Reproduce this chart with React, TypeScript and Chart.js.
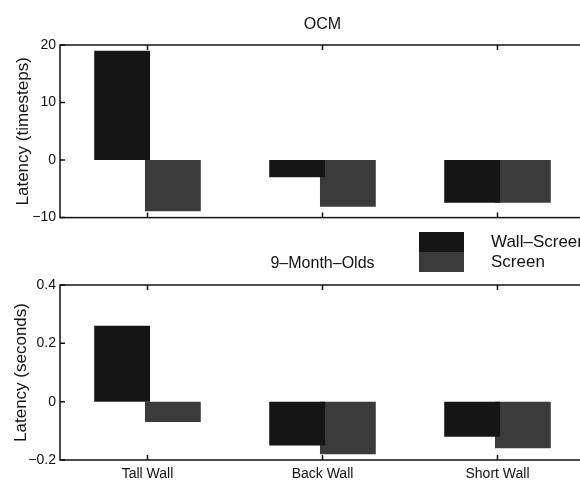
import React, { useEffect, useRef } from "react";
import { Chart, registerables } from "chart.js";

Chart.register(...registerables);

const categories = ["Tall Wall", "Back Wall", "Short Wall"];
const seriesLabels = ["Wall–Screen", "Screen"];
const seriesColors = ["#151515", "#3b3b3b"];

const ocmWallScreen = [19, -3, -7.4];
const ocmScreen = [-8.9, -8.1, -7.4];
const ocmTicks = [-10, 0, 10, 20];

const infantWallScreen = [0.26, -0.15, -0.12];
const infantScreen = [-0.07, -0.18, -0.16];
const infantTicks = [-0.2, 0, 0.2, 0.4];

const FONT = "'Liberation Sans', Arial, Helvetica, sans-serif";

const fmt = (v: number) => String(Math.round(v * 10) / 10).replace("-", "−");

const framePlugin = {
  id: "frame",
  afterDatasetsDraw(chart: any) {
    const { ctx, chartArea: a, scales } = chart;
    ctx.save();
    ctx.strokeStyle = "#111";
    ctx.lineWidth = 1.5;
    ctx.strokeRect(a.left, a.top, a.right - a.left, a.bottom - a.top);
    const tl = 5;
    ctx.beginPath();
    scales.y.ticks.forEach((t: any) => {
      const y = scales.y.getPixelForValue(t.value);
      ctx.moveTo(a.left, y);
      ctx.lineTo(a.left + tl, y);
      ctx.moveTo(a.right, y);
      ctx.lineTo(a.right - tl, y);
    });
    scales.x.ticks.forEach((_t: any, i: number) => {
      const x = scales.x.getPixelForTick(i);
      ctx.moveTo(x, a.bottom);
      ctx.lineTo(x, a.bottom - tl);
      ctx.moveTo(x, a.top);
      ctx.lineTo(x, a.top + tl);
    });
    ctx.stroke();
    ctx.restore();
  },
};

const splitLegendPlugin = {
  id: "splitLegend",
  afterDraw(chart: any) {
    const ctx = chart.ctx;
    const x = 419;
    const y = 2;
    const w = 45;
    const h = 20;
    ctx.save();
    chart.data.datasets.forEach((ds: any, i: number) => {
      ctx.fillStyle = ds.backgroundColor;
      ctx.fillRect(x, y + i * h, w, h);
      ctx.fillStyle = "#111";
      ctx.font = `17px ${FONT}`;
      ctx.textAlign = "left";
      ctx.textBaseline = "middle";
      ctx.fillText(ds.label, 491, y + i * h + h / 2);
    });
    ctx.restore();
  },
};

function makeConfig(
  title: string,
  yTitle: string,
  a: number[],
  b: number[],
  ticks: number[],
  showX: boolean,
  titlePadTop: number,
  titlePadBottom: number,
  xHeight: number,
  yTitlePad: number,
  plugins: any[]
): any {
  return {
    type: "bar",
    data: {
      labels: categories,
      datasets: [
        { label: seriesLabels[0], data: a, backgroundColor: seriesColors[0], borderWidth: 0 },
        { label: seriesLabels[1], data: b, backgroundColor: seriesColors[1], borderWidth: 0 },
      ],
    },
    options: {
      responsive: false,
      animation: false,
      devicePixelRatio: 1,
      layout: { padding: { left: 0, right: 15, top: 0, bottom: 0 } },
      datasets: { bar: { categoryPercentage: 0.58, barPercentage: 1.1 } },
      plugins: {
        legend: { display: false },
        tooltip: { enabled: false },
        title: {
          display: true,
          text: title,
          fullSize: false,
          color: "#111",
          font: { family: FONT, size: 16, weight: "normal", lineHeight: 1.2 },
          padding: { top: titlePadTop, bottom: titlePadBottom },
        },
      },
      scales: {
        x: {
          grid: { display: false, drawTicks: false },
          border: { display: false },
          ticks: {
            display: showX,
            color: "#111",
            font: { family: FONT, size: 14 },
            padding: 6,
            maxRotation: 0,
          },
          afterFit: (s: any) => {
            s.height = xHeight;
          },
        },
        y: {
          min: ticks[0],
          max: ticks[ticks.length - 1],
          grid: { display: false, drawTicks: false },
          border: { display: false },
          afterBuildTicks: (s: any) => {
            s.ticks = ticks.map((v) => ({ value: v }));
          },
          ticks: {
            color: "#111",
            font: { family: FONT, size: 14 },
            padding: 4,
            callback: (v: any) => fmt(Number(v)),
          },
          title: {
            display: true,
            text: yTitle,
            color: "#111",
            font: { family: FONT, size: 17, lineHeight: 1.2 },
            padding: { top: yTitlePad, bottom: 0 },
          },
          afterFit: (s: any) => {
            s.width = 60;
          },
        },
      },
    },
    plugins,
  };
}

export default function App() {
  const topRef = useRef<HTMLCanvasElement>(null);
  const botRef = useRef<HTMLCanvasElement>(null);

  useEffect(() => {
    const c1 = new Chart(
      topRef.current as HTMLCanvasElement,
      makeConfig("OCM", "Latency (timesteps)", ocmWallScreen, ocmScreen, ocmTicks, false, 15, 10.8, 10, 13, [framePlugin])
    );
    const c2 = new Chart(
      botRef.current as HTMLCanvasElement,
      makeConfig("9–Month–Olds", "Latency (seconds)", infantWallScreen, infantScreen, infantTicks, true, 24, 11.8, 20, 11, [framePlugin, splitLegendPlugin])
    );
    return () => {
      c1.destroy();
      c2.destroy();
    };
  }, []);

  return (
    <div
      style={{
        position: "fixed",
        left: 0,
        top: 0,
        width: 580,
        height: 480,
        overflow: "hidden",
        background: "#fff",
      }}
    >
      <canvas ref={topRef} width={600} height={230} style={{ position: "absolute", left: 0, top: 0, display: "block" }} />
      <canvas ref={botRef} width={600} height={250} style={{ position: "absolute", left: 0, top: 230, display: "block" }} />
    </div>
  );
}
